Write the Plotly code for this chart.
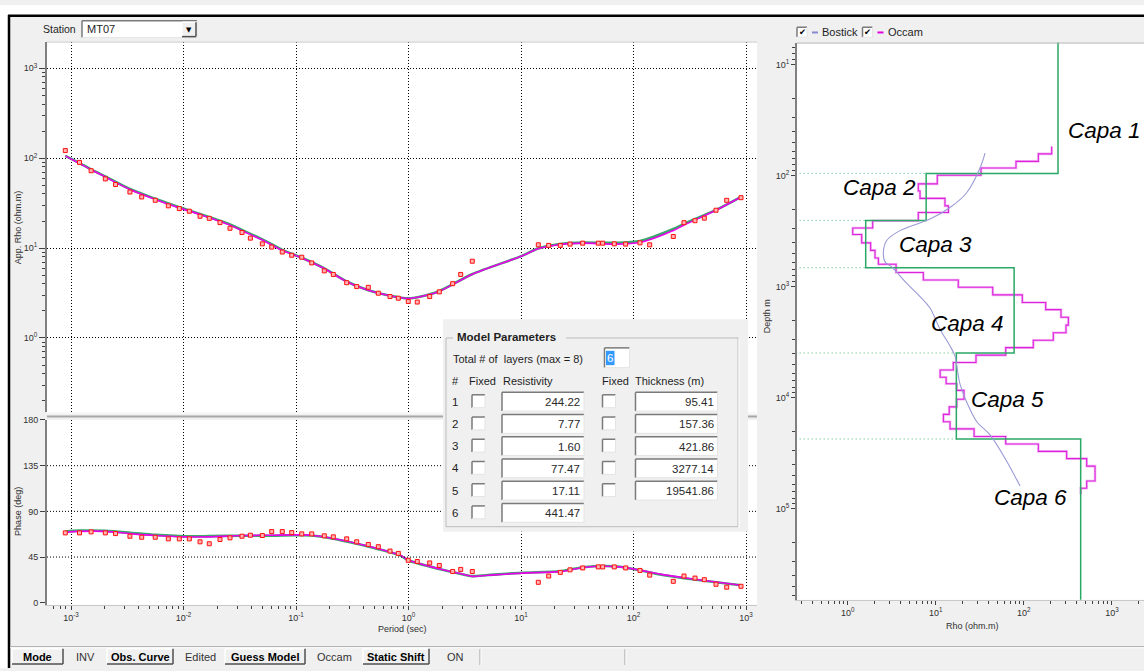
import plotly.graph_objects as go

W, H = 1144, 671
FONT = "Liberation Sans, Arial, sans-serif"
BG = "#f0f0f0"

# ---------------- station MT07 : observed sounding ----------------
period = [0.00089, 0.00119, 0.00151, 0.00202, 0.00249, 0.00334, 0.00425, 0.00561, 0.00733, 0.00918,
          0.01127, 0.01403, 0.01694, 0.0211, 0.0259, 0.0331, 0.0393, 0.0502, 0.0608, 0.0755,
          0.0916, 0.1125, 0.138, 0.1785, 0.2146, 0.2823, 0.3465, 0.4393, 0.5391, 0.6853,
          0.8114, 0.995, 1.197, 1.543, 1.879, 2.471, 2.911, 3.690, 14.25, 17.63,
          22.35, 27.27, 35.35, 48.66, 53.23, 67.5, 85.2, 114.2, 139.3, 225.8,
          281.1, 352.1, 426.1, 541.3, 673.6, 902.8]
app_rho = [121.5, 89.7, 72.5, 58.8, 50.9, 42.0, 37.0, 34.0, 29.5, 27.5,
           25.7, 22.6, 21.4, 19.2, 16.6, 14.9, 12.9, 11.15, 10.26, 9.04,
           8.32, 7.91, 6.84, 5.58, 5.09, 4.12, 3.73, 3.66, 3.15, 2.89,
           2.77, 2.55, 2.51, 2.89, 3.26, 4.02, 5.09, 7.14, 10.87, 10.71,
           10.71, 11.07, 11.34, 11.34, 11.34, 11.15, 11.07, 11.43, 10.87, 13.45,
           19.16, 20.16, 21.53, 26.36, 33.95, 36.35]
phase = [68.8, 68.8, 69.8, 68.8, 68.1, 65.5, 64.5, 64.5, 62.9, 62.9,
         62.9, 60.0, 58.1, 62.3, 63.9, 65.5, 66.5, 66.2, 70.1, 70.1,
         69.1, 67.8, 67.8, 65.9, 64.9, 62.9, 60.0, 57.4, 55.2, 50.9,
         48.6, 41.8, 40.6, 39.2, 36.7, 30.8, 32.8, 30.8, 20.1, 26.3,
         29.9, 32.4, 34.3, 35.3, 35.3, 35.3, 34.3, 31.8, 27.2, 21.1,
         26.3, 24.3, 22.7, 18.2, 15.3, 16.2]

# ---------------- model responses ----------------
fit_period = [0.00089, 0.00119, 0.00151, 0.00202, 0.00334, 0.00561, 0.00918, 0.01403, 0.0259, 0.0331,
              0.0502, 0.0755, 0.1125, 0.1785, 0.2823, 0.4393, 0.6853, 0.990, 1.265, 1.867,
              3.667, 10.2, 14.16, 22.22, 35.57, 67.1, 114.2, 225.8, 281.1, 541.3, 902.8]
rho_fit_occam = [106.0, 87.4, 74.4, 61.8, 44.8, 34.8, 28.0, 23.6, 18.0, 15.6,
                 12.3, 9.44, 7.76, 5.92, 4.23, 3.40, 2.95, 2.75, 2.87, 3.29,
                 5.09, 8.17, 9.82, 10.98, 11.34, 11.07, 11.55, 15.65, 18.03, 26.36, 36.98]
rho_fit_layered = [106.0, 88.2, 75.2, 62.6, 45.4, 35.3, 28.4, 23.9, 18.3, 15.9,
                   12.5, 9.55, 7.80, 5.95, 4.25, 3.40, 2.95, 2.76, 2.88, 3.31,
                   5.12, 8.20, 9.90, 11.10, 11.50, 11.45, 12.00, 16.30, 18.60, 26.60, 37.20]

phase_fit_period = [0.00089, 0.00119, 0.00202, 0.00334, 0.00561, 0.0101, 0.01694, 0.0331, 0.0608, 0.1,
                    0.138, 0.2146, 0.3465, 0.5391, 0.840, 0.995, 1.867, 2.929, 3.667, 5.09,
                    10.2, 22.22, 35.57, 55.8, 75.9, 114.2, 172.1, 281.1, 541.3, 902.8]
phase_fit_occam = [69.4, 70.3, 70.3, 68.1, 66.2, 64.9, 64.9, 66.2, 66.5, 66.8,
                   66.5, 63.2, 58.4, 53.2, 47.0, 42.1, 33.4, 28.5, 26.0, 27.0,
                   29.2, 30.6, 34.7, 36.0, 35.3, 32.1, 28.2, 24.6, 20.4, 17.2]
phase_fit_layered = [70.0, 71.0, 70.8, 69.0, 66.8, 65.5, 65.6, 66.0, 66.0, 66.4,
                     66.2, 63.0, 58.0, 52.8, 46.6, 41.8, 33.2, 28.3, 26.2, 27.3,
                     29.5, 31.0, 35.0, 36.2, 35.4, 32.0, 27.8, 24.2, 20.2, 17.2]

# ---------------- layered model (Model Parameters) ----------------
layer_res = [244.22, 7.77, 1.60, 77.47, 17.11, 441.47]
layer_thk = [95.41, 157.36, 421.86, 3277.14, 19541.86]
n_layers = 6
layer_names = ["Capa 1", "Capa 2", "Capa 3", "Capa 4", "Capa 5", "Capa 6"]

# ---------------- Occam smooth model ----------------
occam_depth = [54.7, 63.7, 74.4, 85.4, 99.2, 118.5, 137.6, 160.2, 187.2, 214.7,
               254.5, 296.1, 339.0, 402.7, 470.6, 551.0, 626.9, 744.6, 869.9, 1012,
               1183, 1385, 1609, 1884, 2219, 2597, 3035, 3532, 4128, 4804,
               5612, 6530, 7474, 8577, 10310, 12076, 14110, 16420, 19060, 22330,
               26090, 30360, 35260, 41270, 56120, 65160, 73690]
occam_rho = [207, 146, 81.4, 32.6, 10.4, 6.33, 6.62, 12.7, 13.9, 6.33,
             1.92, 1.14, 1.44, 1.82, 2.04, 2.23, 3.54, 7.22, 18.0, 44.3,
             96.0, 177, 264, 320, 301, 216, 128, 62.2, 28.6, 15.8,
             11.2, 13.1, 17.3, 20.9, 17.3, 14.2, 12.2, 14.5, 27.2, 62.2,
             146, 306, 517, 643, 517, 442]

# ---------------- Bostick transform ----------------
bostick_depth = [62.8, 85.4, 142.6, 193.8, 246.2, 312.5, 383.5, 487.5, 597.8, 662,
                 933, 1225, 1556, 2423, 3412, 4190, 5140, 6310, 7480, 10900,
                 16420, 21580, 37240, 62230]
bostick_rho = [36.2, 31.8, 22.4, 14.5, 8.60, 3.92, 2.77, 2.54, 2.65, 3.16,
               4.68, 6.62, 8.60, 11.2, 14.5, 16.5, 17.3, 18.0, 18.8, 22.4,
               29.2, 41.3, 63.8, 90.4]

period_ticks = [1e-3, 1e-2, 1e-1, 1, 10, 100, 1000]
period_ticktext = ["10<sup>-3</sup>", "10<sup>-2</sup>", "10<sup>-1</sup>", "10<sup>0</sup>",
                   "10<sup>1</sup>", "10<sup>2</sup>", "10<sup>3</sup>"]
rho_ticks = [1, 10, 100, 1000]
rho_ticktext = ["10<sup>0</sup>", "10<sup>1</sup>", "10<sup>2</sup>", "10<sup>3</sup>"]
phase_ticks = [0, 45, 90, 135, 180]
depth_ticks = [10, 100, 1000, 10000, 100000]
depth_ticktext = ["10<sup>1</sup>", "10<sup>2</sup>", "10<sup>3</sup>", "10<sup>4</sup>", "10<sup>5</sup>"]


# ---------------- helpers (pixel -> paper) ----------------
def X(px):
    return px / W


def Y(py):
    return 1 - py / H


shapes, notes = [], []


def rect(x0, y0, x1, y1, fill=None, line=None, width=1):
    shapes.append(dict(type="rect", xref="paper", yref="paper", layer="above",
                       x0=X(x0), x1=X(x1), y0=Y(y1), y1=Y(y0),
                       fillcolor=fill or "rgba(0,0,0,0)",
                       line=dict(color=line or "rgba(0,0,0,0)", width=width if line else 0)))


def seg(x0, y0, x1, y1, color, width=1, dash=None):
    ln = dict(color=color, width=width)
    if dash:
        ln["dash"] = dash
    shapes.append(dict(type="line", xref="paper", yref="paper", layer="above",
                       x0=X(x0), x1=X(x1), y0=Y(y0), y1=Y(y1), line=ln))


def sunken(x0, y0, x1, y1, fill="#ffffff"):
    rect(x0, y0, x1, y1, fill=fill)
    seg(x0, y0, x1, y0, "#7a7a7a", 1.5)
    seg(x0, y0, x0, y1, "#7a7a7a", 1.5)
    seg(x0, y1, x1, y1, "#e4e4e4", 1)
    seg(x1, y0, x1, y1, "#e4e4e4", 1)


def raised(x0, y0, x1, y1):
    rect(x0, y0, x1, y1, fill=BG)
    seg(x0, y0, x1, y0, "#ffffff", 1.5)
    seg(x0, y0, x0, y1, "#ffffff", 1.5)
    seg(x0, y1, x1, y1, "#505050", 1.5)
    seg(x1, y0, x1, y1, "#505050", 1.5)


def text(x, y, s, size=11, anchor="left", color="#1e1e1e", angle=0, family=FONT):
    notes.append(dict(xref="paper", yref="paper", x=X(x), y=Y(y), text=s, showarrow=False,
                      xanchor=anchor, yanchor="middle", textangle=angle,
                      font=dict(family=family, size=size, color=color)))


fig = go.Figure()

marker_style = dict(symbol="square", size=4, color="#ffb4b4", line=dict(color="#ff1010", width=1))
green_fit = dict(color="#3aa86a", width=2.6, shape="spline", smoothing=0.8)
magenta_fit = dict(color="#ea00ea", width=1.6, shape="spline", smoothing=0.8)

# ---------------- apparent resistivity ----------------
fig.add_trace(go.Scatter(x=fit_period, y=rho_fit_layered, mode="lines", xaxis="x", yaxis="y",
                         line=green_fit))
fig.add_trace(go.Scatter(x=fit_period, y=rho_fit_occam, mode="lines", xaxis="x", yaxis="y",
                         line=magenta_fit))
fig.add_trace(go.Scatter(x=period, y=app_rho, mode="markers", xaxis="x", yaxis="y",
                         marker=marker_style))

# ---------------- phase ----------------
fig.add_trace(go.Scatter(x=phase_fit_period, y=phase_fit_layered, mode="lines", xaxis="x2", yaxis="y2",
                         line=green_fit))
fig.add_trace(go.Scatter(x=phase_fit_period, y=phase_fit_occam, mode="lines", xaxis="x2", yaxis="y2",
                         line=magenta_fit))
fig.add_trace(go.Scatter(x=period, y=phase, mode="markers", xaxis="x2", yaxis="y2",
                         marker=marker_style))

# ---------------- depth model panel ----------------
bounds = []
acc = 0.0
for t in layer_thk:
    acc += t
    bounds.append(acc)

# dotted guides from the depth axis to each layer boundary
gx, gy = [], []
for i, d in enumerate(bounds):
    gx += [0.1, min(layer_res[i], layer_res[i + 1]), None]
    gy += [d, d, None]
fig.add_trace(go.Scatter(x=gx, y=gy, mode="lines", xaxis="x3", yaxis="y3",
                         line=dict(color="#3cb878", width=1, dash="1px,3px")))

# Occam staircase
ox, oy = [], []
for i, r in enumerate(occam_rho):
    ox += [r, r]
    oy += [occam_depth[i], occam_depth[i + 1]]
fig.add_trace(go.Scatter(x=ox, y=oy, mode="lines", xaxis="x3", yaxis="y3",
                         line=dict(color="#f4b8f4", width=2.6)))
fig.add_trace(go.Scatter(x=ox, y=oy, mode="lines", xaxis="x3", yaxis="y3",
                         line=dict(color="#dc22dc", width=1.1)))

# layered model
mx, my = [], []
top = 1.0
for i, r in enumerate(layer_res):
    bot = bounds[i] if i < len(bounds) else 1e7
    mx += [r, r]
    my += [top, bot]
    top = bot
fig.add_trace(go.Scatter(x=mx, y=my, mode="lines", xaxis="x3", yaxis="y3",
                         line=dict(color="#2aa865", width=1.5)))

# Bostick
fig.add_trace(go.Scatter(x=bostick_rho, y=bostick_depth, mode="lines", xaxis="x3", yaxis="y3",
                         line=dict(color="#9a9ad6", width=1.1, shape="spline", smoothing=1.0)))

# ---------------- axes ----------------
tickfont = dict(family=FONT, size=9, color="#303030")
grid = dict(showgrid=True, griddash="1px,2px", gridcolor="#000000", gridwidth=1)
minor_log = dict(ticks="outside", ticklen=3, dtick="D1", tickcolor="#404040", showgrid=False)

fig.update_layout(
    width=W, height=H, autosize=False, margin=dict(l=0, r=0, t=0, b=0),
    paper_bgcolor=BG, plot_bgcolor="#ffffff", showlegend=False,
    xaxis=dict(type="log", domain=[X(47), X(757)], range=[-3.2133, 3.0978], anchor="y",
               tickvals=period_ticks, showticklabels=False, ticks="", zeroline=False,
               showline=False, fixedrange=True, **grid),
    yaxis=dict(type="log", domain=[Y(412), Y(37)], range=[-0.824, 3.2967], anchor="x",
               tickvals=rho_ticks, ticktext=rho_ticktext, ticks="outside", ticklen=6,
               tickcolor="#404040", minor=minor_log, tickfont=tickfont, zeroline=False,
               showline=True, linecolor="#808080", linewidth=2, fixedrange=True, **grid),
    xaxis2=dict(type="log", domain=[X(47), X(757)], range=[-3.2133, 3.0978], anchor="y2",
                tickvals=period_ticks, ticktext=period_ticktext, ticks="outside", ticklen=4,
                tickcolor="#404040", minor=minor_log, tickfont=tickfont, zeroline=False,
                showline=True, linecolor="#c8c8c8", linewidth=1, fixedrange=True, **grid),
    yaxis2=dict(domain=[Y(607), Y(420)], range=[-2, 180], anchor="x2",
                tickvals=phase_ticks, ticks="outside", ticklen=5, tickcolor="#404040",
                tickfont=tickfont, showgrid=False, zeroline=False,
                showline=True, linecolor="#808080", linewidth=2, fixedrange=True),
    xaxis3=dict(type="log", domain=[X(797), 1.0], range=[-0.576, 3.364], anchor="y3",
                tickvals=rho_ticks + [10000], ticktext=rho_ticktext + [""], ticks="outside",
                ticklen=4, tickcolor="#404040", minor=minor_log, tickfont=tickfont,
                showgrid=False, zeroline=False, showline=True, linecolor="#c8c8c8",
                linewidth=1, fixedrange=True),
    yaxis3=dict(type="log", domain=[Y(602), Y(38)], range=[5.819, 0.8016], anchor="x3",
                tickvals=depth_ticks, ticktext=depth_ticktext, ticks="outside", ticklen=4,
                tickcolor="#404040", minor=minor_log, tickfont=tickfont, showgrid=False,
                zeroline=False, showline=True, linecolor="#808080", linewidth=2,
                fixedrange=True),
)

# phase gridlines (45, 90, 135)
for v in phase_ticks[1:-1]:
    shapes.append(dict(type="line", xref="paper", yref="y2", x0=X(47), x1=X(757), y0=v, y1=v,
                       layer="above", line=dict(color="#000000", width=1, dash="1px,2px")))

# ---------------- window frame ----------------
rect(0, 0, W, 10, fill="#ffffff")
rect(0, 0, 8, H, fill="#ffffff")
seg(8, 11, W, 11, "#000000", 2.5)
seg(9, 10, 9, H, "#000000", 2.5)
seg(47, 37.5, 757, 37.5, "#c8c8c8", 1)
seg(797, 38.5, W, 38.5, "#b0b0b0", 1)
seg(47, 413, 757, 413, "#ffffff", 1)
seg(47, 416.5, 757, 416.5, "#a8a8a8", 2)

# station selector
text(78, 24.5, "Station", 10.5, "right")
sunken(82, 16, 197, 33)
raised(182, 17.5, 196, 32)
text(189, 25, "▼", 7, "center", "#000000", family="DejaVu Sans")
text(85, 24.5, "MT07", 11)

# axis titles
text(18, 225, "App. Rho (ohm.m)", 9, "center", "#303030", angle=-90)
text(18, 513, "Phase (deg)", 9, "center", "#303030", angle=-90)
text(402, 632, "Period (sec)", 9, "center", "#303030")
text(767, 315, "Depth m", 9, "center", "#303030", angle=-90)
text(972, 628, "Rho (ohm.m)", 9, "center", "#303030")

# depth panel legend
for bx, lbl, col in [(797, "Bostick", "#8a8ad0"), (862.5, "Occam", "#e000e0")]:
    sunken(bx, 22.5, bx + 10, 32.5)
    text(bx + 5, 27.5, "✔", 8.5, "center", "#000000", family="DejaVu Sans")
    seg(bx + 15, 27.8, bx + 21, 27.8, col, 2)
    text(bx + 23, 27.5, lbl, 11)

# layer labels
capa_xy = [(1104.5, 127), (879.5, 185), (935, 242), (967, 322), (1007, 399), (1030, 498)]
for (cx, cy), name in zip(capa_xy, layer_names):
    text(cx, cy, "<i>" + name + "</i>", 22.5, "center", "#000000")

# ---------------- Model Parameters panel ----------------
PF = 11
rect(443, 318, 748, 533, fill=BG)
seg(446, 337, 453, 337, "#bcbcbc", 1)
seg(566, 337, 738, 337, "#bcbcbc", 1)
seg(738, 337, 738, 528, "#bcbcbc", 1)
seg(446, 337, 446, 528, "#bcbcbc", 1)
seg(446, 528, 738, 528, "#bcbcbc", 1)
seg(739, 338, 739, 529, "#ffffff", 1)
text(455, 336.5, "<b>Model Parameters</b>", 11.5)
text(451, 358.5, "Total # of  layers (max = 8)", PF)
sunken(604.5, 347, 629.5, 367)
rect(606, 350, 614.5, 364.5, fill="#3399ff")
text(610.2, 357.5, str(n_layers), 11.5, "center", "#ffffff")

row_y0 = 381
text(455, row_y0, "#", PF, "center")
text(467, row_y0, "Fixed", PF)
text(501, row_y0, "Resistivity", PF)
text(600, row_y0, "Fixed", PF)
text(633, row_y0, "Thickness (m)", PF)

for i in range(n_layers):
    ry = 401.5 + 22.5 * i
    text(455, ry, str(i + 1), 11.5, "center")
    sunken(472, ry - 7, 485, ry + 6)
    sunken(502, ry - 9.5, 584, ry + 9.5)
    text(582, ry + 0.5, f"{layer_res[i]:.2f}", 11.5, "right", "#2a2a2a")
    if i < len(layer_thk):
        sunken(602.5, ry - 7, 615.5, ry + 6)
        sunken(635.5, ry - 9.5, 717.5, ry + 9.5)
        text(715.5, ry + 0.5, f"{layer_thk[i]:.2f}", 11.5, "right", "#2a2a2a")

# ---------------- status bar ----------------
seg(10, 649.5, W, 649.5, "#a0a0a0", 1)
seg(10, 650.5, W, 650.5, "#ffffff", 1)
for x0, x1, lbl in [(12, 63, "Mode"), (107, 173, "Obs. Curve"), (225, 305, "Guess Model"),
                    (363, 429, "Static Shift")]:
    raised(x0, 651.5, x1, 667)
    text((x0 + x1) / 2, 659.5, "<b>" + lbl + "</b>", 11, "center", "#000000")
for cx, lbl in [(85, "INV"), (200, "Edited"), (334, "Occam"), (455, "ON")]:
    text(cx, 660, lbl, 11, "center", "#333333")
for sx in [480, 625]:
    seg(sx, 652, sx, 668, "#a0a0a0", 1)
    seg(sx + 1, 652, sx + 1, 668, "#ffffff", 1)

fig.update_layout(shapes=shapes, annotations=notes)
fig.write_html("out.html", config={"displayModeBar": False})
